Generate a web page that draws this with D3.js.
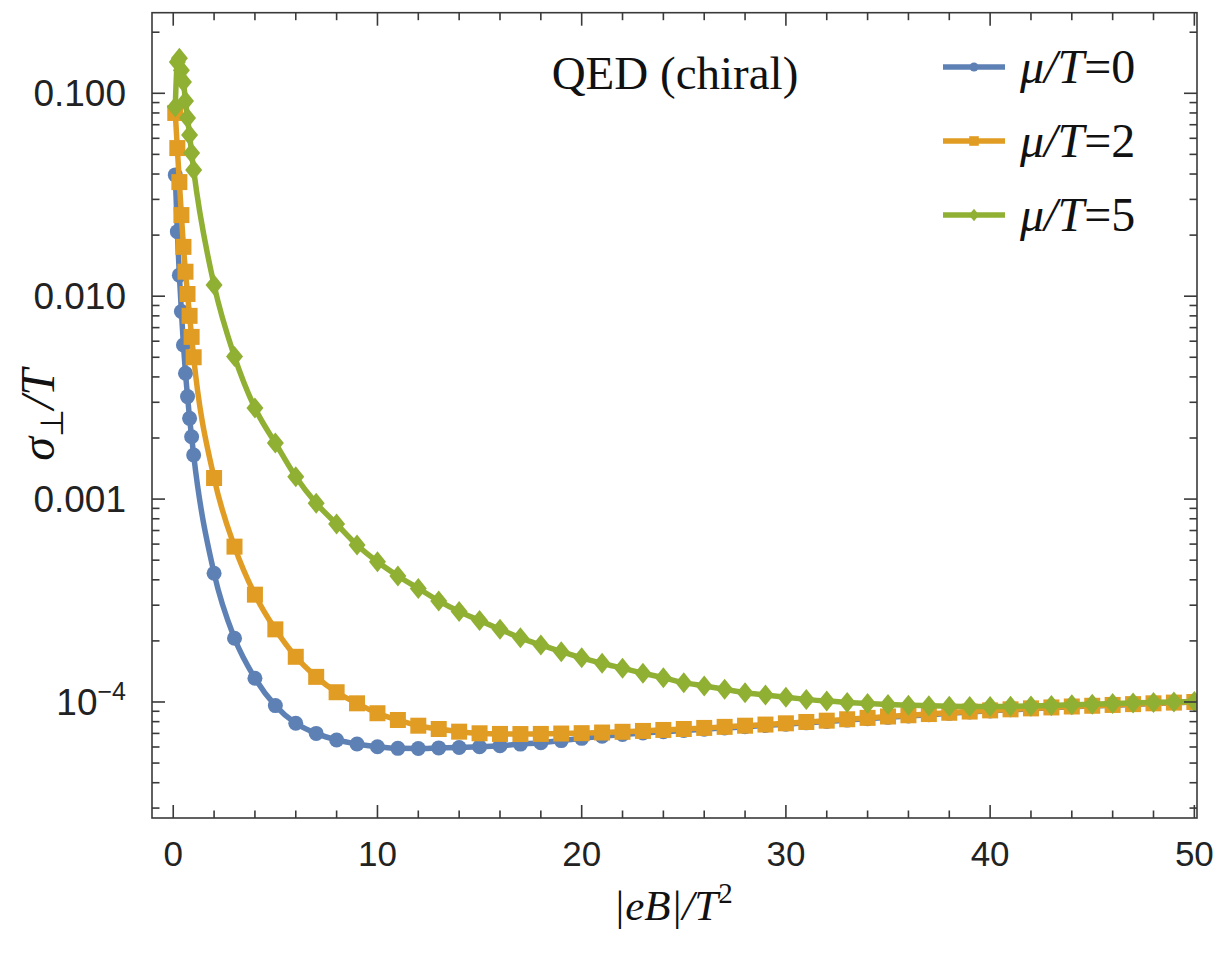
<!DOCTYPE html>
<html>
<head>
<meta charset="utf-8">
<script src="https://cdn.jsdelivr.net/npm/d3@7"></script>
<style>
  html, body { margin: 0; padding: 0; background: #fff; }
  svg { display: block; }
</style>
</head>
<body>
<svg id="chart" width="1216" height="953"></svg>
<script>
// |eB|/T^2 sample points: a fine grid below 1, then integer steps
const xs = [0.1, 0.2, 0.3, 0.4, 0.5, 0.6, 0.7, 0.8, 0.9, 1.0,
  2, 3, 4, 5, 6, 7, 8, 9, 10, 11, 12, 13, 14, 15, 16, 17, 18, 19, 20,
  21, 22, 23, 24, 25, 26, 27, 28, 29, 30, 31, 32, 33, 34, 35, 36, 37, 38, 39, 40,
  41, 42, 43, 44, 45, 46, 47, 48, 49, 50];

// sigma_perp / T for mu/T = 0
const sigmaMu0 = [0.0396, 0.0208, 0.0127, 0.0084, 0.00575, 0.00417, 0.0032, 0.0025, 0.00203, 0.00165,
  4.31e-4, 2.06e-4, 1.31e-4, 9.6e-5, 7.85e-5, 7.0e-5, 6.5e-5, 6.21e-5, 6.02e-5, 5.91e-5,
  5.9e-5, 5.94e-5, 5.97e-5, 6.02e-5, 6.09e-5, 6.2e-5, 6.3e-5, 6.45e-5, 6.62e-5,
  6.78e-5, 6.92e-5, 7.04e-5, 7.14e-5, 7.24e-5, 7.34e-5, 7.44e-5, 7.55e-5, 7.66e-5, 7.77e-5,
  7.89e-5, 8.01e-5, 8.14e-5, 8.27e-5, 8.4e-5, 8.53e-5, 8.66e-5, 8.79e-5, 8.92e-5, 9.04e-5,
  9.15e-5, 9.26e-5, 9.36e-5, 9.46e-5, 9.55e-5, 9.64e-5, 9.73e-5, 9.82e-5, 9.91e-5, 9.99e-5];

// sigma_perp / T for mu/T = 2
const sigmaMu2 = [0.080, 0.0537, 0.0365, 0.0251, 0.0175, 0.0132, 0.01025, 0.0080, 0.0063, 0.0050,
  1.27e-3, 5.83e-4, 3.38e-4, 2.28e-4, 1.67e-4, 1.33e-4, 1.117e-4, 9.85e-5, 8.8e-5, 8.15e-5,
  7.64e-5, 7.36e-5, 7.14e-5, 7.01e-5, 6.96e-5, 6.95e-5, 6.96e-5, 6.99e-5, 7.02e-5,
  7.07e-5, 7.13e-5, 7.2e-5, 7.28e-5, 7.36e-5, 7.45e-5, 7.54e-5, 7.64e-5, 7.74e-5, 7.85e-5,
  7.97e-5, 8.09e-5, 8.22e-5, 8.35e-5, 8.48e-5, 8.6e-5, 8.72e-5, 8.85e-5, 8.97e-5, 9.09e-5,
  9.2e-5, 9.3e-5, 9.4e-5, 9.5e-5, 9.58e-5, 9.67e-5, 9.76e-5, 9.85e-5, 9.93e-5, 1.0e-4];

// sigma_perp / T for mu/T = 5
const sigmaMu5 = [0.0856, 0.1427, 0.149, 0.130, 0.1137, 0.0916, 0.0755, 0.0623, 0.0508, 0.0419,
  0.01135, 5.04e-3, 2.81e-3, 1.89e-3, 1.289e-3, 9.54e-4, 7.54e-4, 5.94e-4, 4.91e-4, 4.18e-4,
  3.63e-4, 3.15e-4, 2.79e-4, 2.52e-4, 2.28e-4, 2.07e-4, 1.91e-4, 1.77e-4, 1.65e-4,
  1.55e-4, 1.466e-4, 1.385e-4, 1.317e-4, 1.245e-4, 1.20e-4, 1.155e-4, 1.111e-4, 1.083e-4, 1.055e-4,
  1.03e-4, 1.01e-4, 9.95e-5, 9.83e-5, 9.72e-5, 9.64e-5, 9.58e-5, 9.53e-5, 9.5e-5, 9.5e-5,
  9.52e-5, 9.56e-5, 9.62e-5, 9.68e-5, 9.75e-5, 9.82e-5, 9.89e-5, 9.95e-5, 1.0e-4, 1.005e-4];

const seriesLabels = ["0", "2", "5"];

const xMajorTicks = [0, 10, 20, 30, 40, 50];
const xTickLabels = ["0", "10", "20", "30", "40", "50"];
const yMajorTicks = [1e-4, 1e-3, 1e-2, 1e-1];
const yTickLabels = ["10", "0.001", "0.010", "0.100"];

const svg = d3.select("#chart");

const plot = { left: 152, right: 1197, top: 12.7, bottom: 818 };

const x = d3.scaleLinear().domain([-1.04, 50.13]).range([plot.left, plot.right]);
const y = d3.scaleLog().domain([Math.pow(10, -4.5718), Math.pow(10, -0.6028)]).range([plot.bottom, plot.top]);

const colors = ["#5E81B5", "#E19C24", "#8FB032"];
const series = [sigmaMu0, sigmaMu2, sigmaMu5];

// Clip region for the data
svg.append("defs").append("clipPath").attr("id", "plotClip")
  .append("rect")
  .attr("x", plot.left).attr("y", plot.top)
  .attr("width", plot.right - plot.left).attr("height", plot.bottom - plot.top);

const dataLayer = svg.append("g").attr("clip-path", "url(#plotClip)");

const line = d3.line()
  .x((d, i) => x(xs[i]))
  .y(d => y(d))
  .curve(d3.curveMonotoneX);

function drawMarker(g, kind, cx, cy, color, scale) {
  if (kind === 0) {
    g.append("circle").attr("cx", cx).attr("cy", cy).attr("r", 7.5 * scale).attr("fill", color);
  } else if (kind === 1) {
    const s = 16 * scale;
    g.append("rect").attr("x", cx - s / 2).attr("y", cy - s / 2).attr("width", s).attr("height", s).attr("fill", color);
  } else {
    const w = 8.5 * scale, h = 10.5 * scale;
    g.append("path")
      .attr("d", `M${cx},${cy - h}L${cx + w},${cy}L${cx},${cy + h}L${cx - w},${cy}Z`)
      .attr("fill", color);
  }
}

series.forEach((vals, k) => {
  const g = dataLayer.append("g");
  g.append("path")
    .datum(vals)
    .attr("d", line)
    .attr("fill", "none")
    .attr("stroke", colors[k])
    .attr("stroke-width", 5.5)
    .attr("stroke-linejoin", "round");
  vals.forEach((v, i) => drawMarker(g, k, x(xs[i]), y(v), colors[k], 1));
});

// Frame and inward ticks on all four sides
const frameColor = "#3a3a3a";
const axes = svg.append("g").attr("stroke", frameColor).attr("stroke-width", 1.6);
axes.append("rect")
  .attr("x", plot.left).attr("y", plot.top)
  .attr("width", plot.right - plot.left).attr("height", plot.bottom - plot.top)
  .attr("fill", "none");

const majorLen = 13, minorLen = 7.5;
const xMinor = d3.range(2, 50, 2).filter(v => v % 10 !== 0);
xMajorTicks.forEach(v => {
  axes.append("line").attr("x1", x(v)).attr("x2", x(v)).attr("y1", plot.bottom).attr("y2", plot.bottom - majorLen);
  axes.append("line").attr("x1", x(v)).attr("x2", x(v)).attr("y1", plot.top).attr("y2", plot.top + majorLen);
});
xMinor.forEach(v => {
  axes.append("line").attr("x1", x(v)).attr("x2", x(v)).attr("y1", plot.bottom).attr("y2", plot.bottom - minorLen);
  axes.append("line").attr("x1", x(v)).attr("x2", x(v)).attr("y1", plot.top).attr("y2", plot.top + minorLen);
});

const [yLo, yHi] = y.domain();
const yMinor = [];
for (let e = -5; e <= 0; e++) {
  for (let m = 2; m <= 9; m++) {
    const v = m * Math.pow(10, e);
    if (v > yLo && v < yHi) yMinor.push(v);
  }
}
yMajorTicks.forEach(v => {
  axes.append("line").attr("y1", y(v)).attr("y2", y(v)).attr("x1", plot.left).attr("x2", plot.left + majorLen);
  axes.append("line").attr("y1", y(v)).attr("y2", y(v)).attr("x1", plot.right).attr("x2", plot.right - majorLen);
});
yMinor.forEach(v => {
  axes.append("line").attr("y1", y(v)).attr("y2", y(v)).attr("x1", plot.left).attr("x2", plot.left + minorLen);
  axes.append("line").attr("y1", y(v)).attr("y2", y(v)).attr("x1", plot.right).attr("x2", plot.right - minorLen);
});

// Tick labels
const tickFont = "'Liberation Sans', Arial, sans-serif";
xMajorTicks.forEach((v, i) => {
  svg.append("text")
    .attr("x", x(v)).attr("y", 866)
    .attr("text-anchor", "middle")
    .attr("font-family", tickFont).attr("font-size", 35)
    .attr("fill", "#222")
    .text(xTickLabels[i]);
});
yMajorTicks.forEach((v, i) => {
  const t = svg.append("text")
    .attr("x", 126).attr("y", y(v) + 13)
    .attr("text-anchor", "end")
    .attr("font-family", tickFont).attr("font-size", 37)
    .attr("fill", "#222");
  if (v === 1e-4) {
    t.append("tspan").text(yTickLabels[i]);
    t.append("tspan").attr("dy", -15).attr("font-size", 25).text("\u22124");
  } else {
    t.text(yTickLabels[i]);
  }
});

// Axis titles
const serif = "'Liberation Serif', 'Times New Roman', serif";
const xTitle = svg.append("text")
  .attr("x", 673).attr("y", 920)
  .attr("text-anchor", "middle")
  .attr("font-family", serif).attr("font-size", 43)
  .attr("font-style", "italic").attr("fill", "#111");
xTitle.append("tspan").text("|eB|/T");
xTitle.append("tspan").attr("dy", -17).attr("font-size", 29).attr("font-style", "normal").text("2");

const yTitle = svg.append("text")
  .attr("transform", "translate(54,415) rotate(-90)")
  .attr("text-anchor", "middle")
  .attr("font-family", serif).attr("font-size", 48)
  .attr("font-style", "italic").attr("fill", "#111");
yTitle.append("tspan").text("\u03C3");
yTitle.append("tspan").attr("dy", 9).attr("font-size", 32).attr("font-style", "normal").text("\u22A5");
yTitle.append("tspan").attr("dy", -9).text("/T");

// Plot label
svg.append("text")
  .attr("x", 675).attr("y", 89)
  .attr("text-anchor", "middle")
  .attr("font-family", serif).attr("font-size", 47)
  .attr("fill", "#111")
  .text("QED (chiral)");

// Legend
const legendYs = [67, 141, 215];
seriesLabels.forEach((lab, k) => {
  const ly = legendYs[k];
  const g = svg.append("g");
  g.append("line").attr("x1", 943).attr("x2", 1005).attr("y1", ly).attr("y2", ly)
    .attr("stroke", colors[k]).attr("stroke-width", 5.5);
  drawMarker(g, k, 974, ly, colors[k], 0.6);
  const t = g.append("text").attr("x", 1020).attr("y", ly + 16)
    .attr("font-family", serif).attr("font-size", 48).attr("fill", "#111");
  t.append("tspan").attr("font-style", "italic").text("\u03BC/T");
  t.append("tspan").text("=" + lab);
});
</script>
</body>
</html>
